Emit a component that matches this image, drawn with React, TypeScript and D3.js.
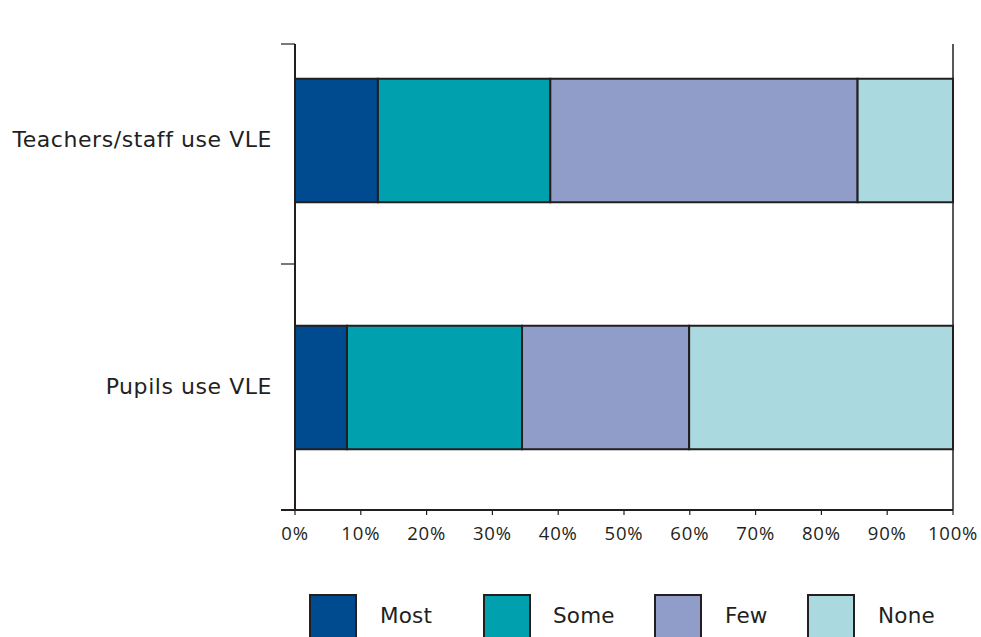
import React from "react";
import * as d3 from "d3";

const categories = ["Teachers/staff use VLE", "Pupils use VLE"];
const seriesNames = ["Most", "Some", "Few", "None"];
const mostValues = [12.6, 7.9];
const someValues = [26.2, 26.6];
const fewValues = [46.7, 25.4];
const noneValues = [14.5, 40.1];
const xTicks = [0, 10, 20, 30, 40, 50, 60, 70, 80, 90, 100];
const colors = ["#004a8f", "#00a0ae", "#8f9dc8", "#aadadf"];

const W = 981;
const H = 637;
const left = 295;
const right = 953;
const top = 44;
const bottom = 510;
const ink = "#231f20";

export default function App() {
  const x = d3.scaleLinear().domain([0, 100]).range([left, right]);
  const y = d3
    .scaleBand<string>()
    .domain(categories)
    .range([17, 511])
    .paddingInner(0.5)
    .paddingOuter(0.25);

  const rows = categories.map((c, i) => ({
    cat: c,
    Most: mostValues[i],
    Some: someValues[i],
    Few: fewValues[i],
    None: noneValues[i],
  }));
  const stacked = d3.stack<any>().keys(seriesNames)(rows);

  const midTick = (y(categories[0])! + y.bandwidth() + y(categories[1])!) / 2;
  const yTicks = [top, midTick, bottom];

  const legendSwatchX = [310, 484, 655, 808];
  const legendTextX = [380, 553, 725, 878];

  return (
    <svg
      width={W}
      height={H}
      style={{ position: "absolute", left: 0, top: 0, background: "#fff" }}
    >
      {/* stacked bars */}
      {stacked.map((layer, si) => (
        <g key={seriesNames[si]}>
          {layer.map((d, i) => (
            <rect
              key={i}
              x={x(d[0])}
              y={y(categories[i])}
              width={x(d[1]) - x(d[0])}
              height={y.bandwidth()}
              fill={colors[si]}
              stroke={ink}
              strokeWidth={2}
            />
          ))}
        </g>
      ))}

      {/* axes */}
      <line x1={left} x2={left} y1={top} y2={bottom} stroke={ink} strokeWidth={2} />
      <line x1={right} x2={right} y1={top} y2={bottom} stroke={ink} strokeWidth={1.5} />
      <line x1={left - 14} x2={right} y1={bottom} y2={bottom} stroke={ink} strokeWidth={2} />
      {yTicks.map((t, i) => (
        <line key={i} x1={left - 14} x2={left} y1={t} y2={t} stroke={ink} strokeWidth={1.2} />
      ))}
      {xTicks.map((t) => (
        <g key={t}>
          <line x1={x(t)} x2={x(t)} y1={bottom} y2={bottom + 5} stroke={ink} strokeWidth={1.2} />
          <text
            x={x(t)}
            y={540}
            textAnchor="middle"
            fontFamily="'Open Sans', sans-serif"
            fontSize={18.5}
            letterSpacing={0.8}
            fill={ink}
          >
            {t}%
          </text>
        </g>
      ))}

      {/* category labels */}
      {categories.map((c) => (
        <text
          key={c}
          x={272}
          y={y(c)! + y.bandwidth() / 2 + 6}
          textAnchor="end"
          fontFamily="'DejaVu Sans', Verdana, sans-serif"
          fontSize={22}
          letterSpacing={0.55}
          fill={ink}
        >
          {c}
        </text>
      ))}

      {/* legend */}
      {seriesNames.map((s, i) => (
        <g key={s}>
          <rect
            x={legendSwatchX[i]}
            y={595}
            width={46}
            height={50}
            fill={colors[i]}
            stroke={ink}
            strokeWidth={2}
          />
          <text
            x={legendTextX[i]}
            y={623}
            fontFamily="'DejaVu Sans', Verdana, sans-serif"
            fontSize={21.5}
            letterSpacing={0.2}
            fill={ink}
          >
            {s}
          </text>
        </g>
      ))}
    </svg>
  );
}
